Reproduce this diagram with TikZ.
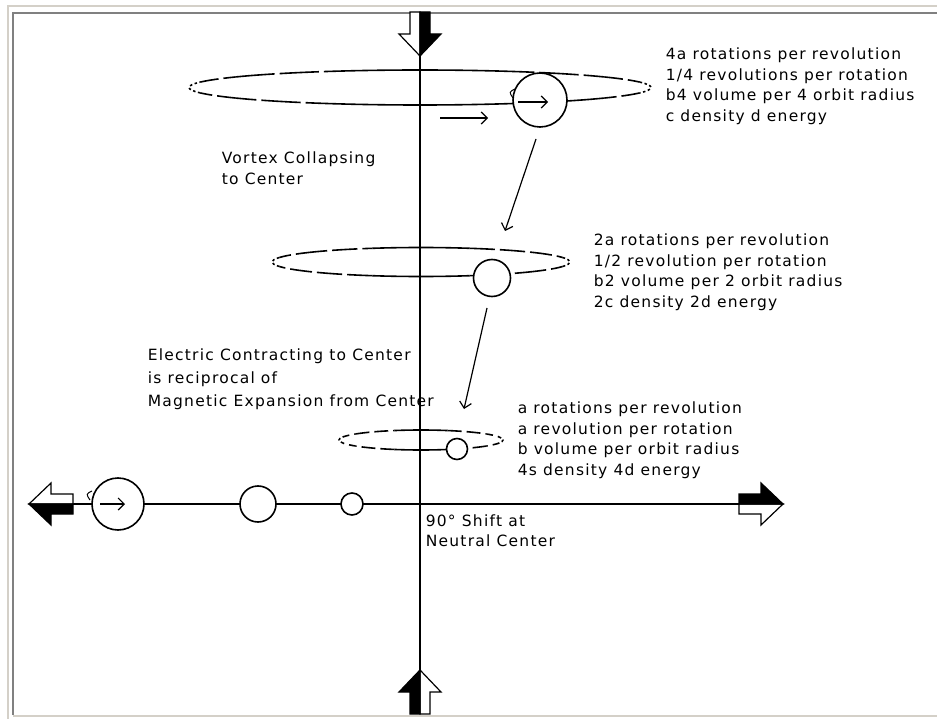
\documentclass[tikz,border=0pt]{standalone}
\usepackage{fontspec}
\setmainfont{DejaVu Sans}[LetterSpace=8]
\usetikzlibrary{arrows.meta}
\definecolor{framelight}{HTML}{D4D0C8}
\definecolor{framedark}{HTML}{808080}
\begin{document}
\begin{tikzpicture}[x=1pt, y=-1pt, line width=1.6pt,
  txt/.style={font=\fontsize{15.5}{20.5}\selectfont, align=left, inner sep=0pt, anchor=north west},
  orb/.style={circle, draw, fill=white, inner sep=0pt},
  corepart/.style={solid},
  nearpart/.style={dash pattern=on \nearlen pt off 5pt},
  midpart/.style={dash pattern=on \midlen pt off 5pt},
  farpart/.style={dash pattern=on 2.5pt off 2.5pt},
  spin/.style={-{Straight Barb[length=6pt,width=12pt]}, line width=1.2pt},
  bigarrow/.pic={
    \filldraw[fill=white, draw=black, line width=1.2pt] (0,0) -- (-22,21) -- (-22,10) -- (-44,10) -- (-44,0) -- cycle;
    \filldraw[fill=black, draw=black, line width=1.2pt] (0,0) -- (-22,-21) -- (-22,-10) -- (-44,-10) -- (-44,0) -- cycle;
  }]
\useasboundingbox (0,0) rectangle (937,719);
% window frame
\draw[framelight, line width=2pt] (8,719) -- (8,6) -- (937,6);
\draw[framedark, line width=2pt] (13,715) -- (13,13) -- (937,13);
\draw[framelight, line width=2pt] (13,716) -- (937,716);
% orbits
\foreach \cx/\cy/\rx/\ry in {420/87.5/231/17.5, 421/262/149/14.5, 421/440/82/10}{
  \pgfmathsetmacro\nearlen{0.17*\rx}
  \pgfmathsetmacro\midlen{0.08*\rx}
  \foreach \a/\b/\s in {-18/18/farpart, 18/37/midpart, 37/71/nearpart, 71/109/corepart,
      109/143/nearpart, 143/162/midpart, 162/198/farpart, 198/217/midpart,
      217/251/nearpart, 251/289/corepart, 289/323/nearpart, 323/342/midpart}
    \draw[\s] ({\cx+\rx*cos(\a)},{\cy+\ry*sin(\a)}) arc[start angle=\a, end angle=\b, x radius=\rx, y radius=\ry];
}
% axes
\coordinate (ntip) at (420,56);
\coordinate (stip) at (420,670);
\coordinate (wtail) at (73,504);
\coordinate (etail) at (739,504);
\draw (ntip) -- (stip);
\draw (wtail) -- (etail);
\pic[rotate=-90] (northarrow) at (ntip) {bigarrow};
\pic[rotate=90] (southarrow) at (stip) {bigarrow};
\pic[rotate=180] (westarrow) at (29,504) {bigarrow};
\pic (eastarrow) at (783,504) {bigarrow};
% bodies
\node[orb, minimum size=54pt] (orbit4) at (540,100) {};
\node[orb, minimum size=37pt] (orbit2) at (492,278) {};
\node[orb, minimum size=21pt] (orbit1) at (457,449) {};
\node[orb, minimum size=52pt] (side4) at (118,504) {};
\node[orb, minimum size=36pt] (side2) at (258,504) {};
\node[orb, minimum size=22pt] (side1) at (352,504) {};
\draw[spin] ([xshift=-22pt, yshift=-2pt]orbit4.center) -- ([xshift=8pt, yshift=-2pt]orbit4.center);
\draw[spin] ([xshift=-18pt]side4.center) -- ([xshift=7pt]side4.center);
\draw[line width=1pt] (515,89) .. controls (509,92) .. (513,98);
\draw[line width=1pt] (92,491) .. controls (86,494) .. (90,500);
% drift and fall
\coordinate (drift) at (440,118);
\draw[spin] (drift) -- ++(48,0);
\coordinate (fall1) at (536,139);
\coordinate (land1) at (505,231);
\coordinate (fall2) at (487,308);
\coordinate (land2) at (464,409);
\draw[spin] (fall1) -- (land1);
\draw[spin] (fall2) -- (land2);
% labels
\node[txt] (info4) at (665,47) {4a rotations per revolution\\1/4 revolutions per rotation\\b4 volume per 4 orbit radius\\c density d energy};
\node[txt] (info2) at (593,233) {2a rotations per revolution\\1/2 revolution per rotation\\b2 volume per 2 orbit radius\\2c density 2d energy};
\node[txt] (info1) at (517,401) {a rotations per revolution\\a revolution per rotation\\b volume per orbit radius\\4s density 4d energy};
\node[txt] (vortex) at (221,151) {Vortex Collapsing\\to Center};
\node[txt, font=\fontsize{15.5}{23}\selectfont] (electric) at (147,348) {Electric Contracting to Center\\is reciprocal of\\Magnetic Expansion from Center};
\node[txt, font=\fontsize{15.5}{20}\selectfont] (shift) at (425,514) {90° Shift at\\Neutral Center};
\end{tikzpicture}
\end{document}
